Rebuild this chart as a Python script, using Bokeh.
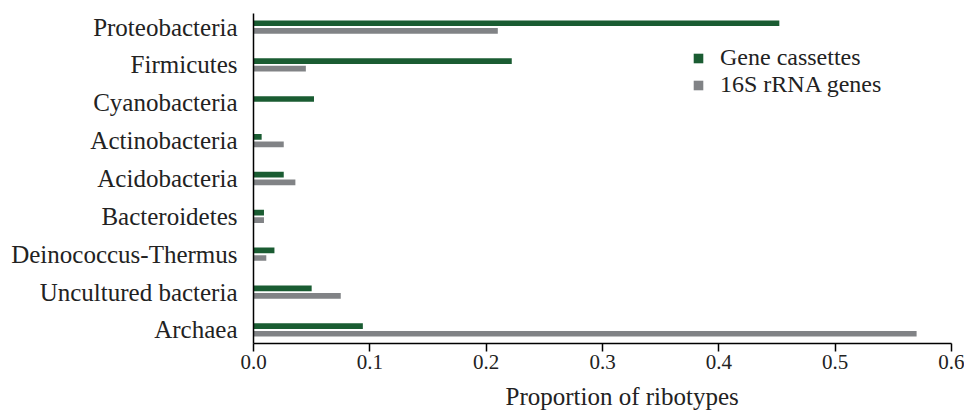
from bokeh.plotting import figure
from bokeh.models import (FactorRange, Range1d, Title, Legend, LegendItem,
                          FixedTicker, ColumnDataSource, NumeralTickFormatter)
from bokeh.transform import dodge
from bokeh.embed import file_html
from bokeh.resources import INLINE

categories = ["Proteobacteria", "Firmicutes", "Cyanobacteria", "Actinobacteria",
              "Acidobacteria", "Bacteroidetes", "Deinococcus-Thermus",
              "Uncultured bacteria", "Archaea"]
gene_cassettes = [0.452, 0.222, 0.052, 0.007, 0.026, 0.009, 0.018, 0.050, 0.094]
rrna_16s = [0.210, 0.045, 0.0, 0.026, 0.036, 0.009, 0.011, 0.075, 0.570]
x_ticks = [0.0, 0.1, 0.2, 0.3, 0.4, 0.5, 0.6]
series_names = ["Gene cassettes", "16S rRNA genes"]
x_title = "Proportion of ribotypes"

GREEN = "#1a5c32"
GRAY = "#818386"
FONT = "Liberation Serif"

src = ColumnDataSource(dict(cat=categories, gc=gene_cassettes, rr=rrna_16s))

y_range = FactorRange(factors=list(reversed(categories)),
                      range_padding=-0.142, range_padding_units="absolute")

p = figure(width=964, height=418, y_range=y_range, x_range=Range1d(0, 0.6),
           output_backend="svg", toolbar_location=None,
           min_border_left=253, min_border_right=13,
           min_border_top=13, min_border_bottom=0)

r1 = p.hbar(y=dodge("cat", 0.1, range=p.y_range), left=0, right="gc", height=0.15,
            source=src, fill_color=GREEN, line_color=None)
r2 = p.hbar(y=dodge("cat", -0.1, range=p.y_range), left=0, right="rr", height=0.15,
            source=src, fill_color=GRAY, line_color=None)

p.outline_line_color = None
p.xgrid.grid_line_color = None
p.ygrid.grid_line_color = None

xa = p.xaxis[0]
xa.ticker = FixedTicker(ticks=x_ticks)
xa.formatter = NumeralTickFormatter(format="0.0")
xa.minor_tick_line_color = None
xa.major_tick_out = 8
xa.major_tick_in = 0
xa.major_tick_line_width = 1.5
xa.axis_line_width = 1.5
xa.axis_line_color = "black"
xa.major_tick_line_color = "black"
xa.major_label_text_font = FONT
xa.major_label_text_font_size = "21px"
xa.major_label_text_color = "#222222"
xa.major_label_standoff = 3

ya = p.yaxis[0]
ya.major_tick_line_color = None
ya.minor_tick_line_color = None
ya.axis_line_width = 1.5
ya.axis_line_color = "black"
ya.major_label_text_font = FONT
ya.major_label_text_font_size = "25px"
ya.major_label_text_color = "#222222"
ya.major_label_standoff = 10

title = Title(text=x_title, align="left", offset=252, standoff=18,
              text_font=FONT, text_font_size="25px", text_font_style="normal",
              text_color="#222222")
p.add_layout(title, "below")

legend_style = dict(glyph_width=12, glyph_height=12, label_standoff=16,
                    padding=0, margin=0, spacing=0, label_height=20,
                    border_line_color=None, background_fill_alpha=0,
                    label_text_font=FONT, label_text_font_size="24px",
                    label_text_color="#222222")
legend1 = Legend(items=[LegendItem(label=series_names[0], renderers=[r1])],
                 location=(439, 272), **legend_style)
legend2 = Legend(items=[LegendItem(label=series_names[1], renderers=[r2])],
                 location=(439, 245), **legend_style)
p.add_layout(legend1)
p.add_layout(legend2)

open("out.html", "w").write(file_html(p, INLINE))
